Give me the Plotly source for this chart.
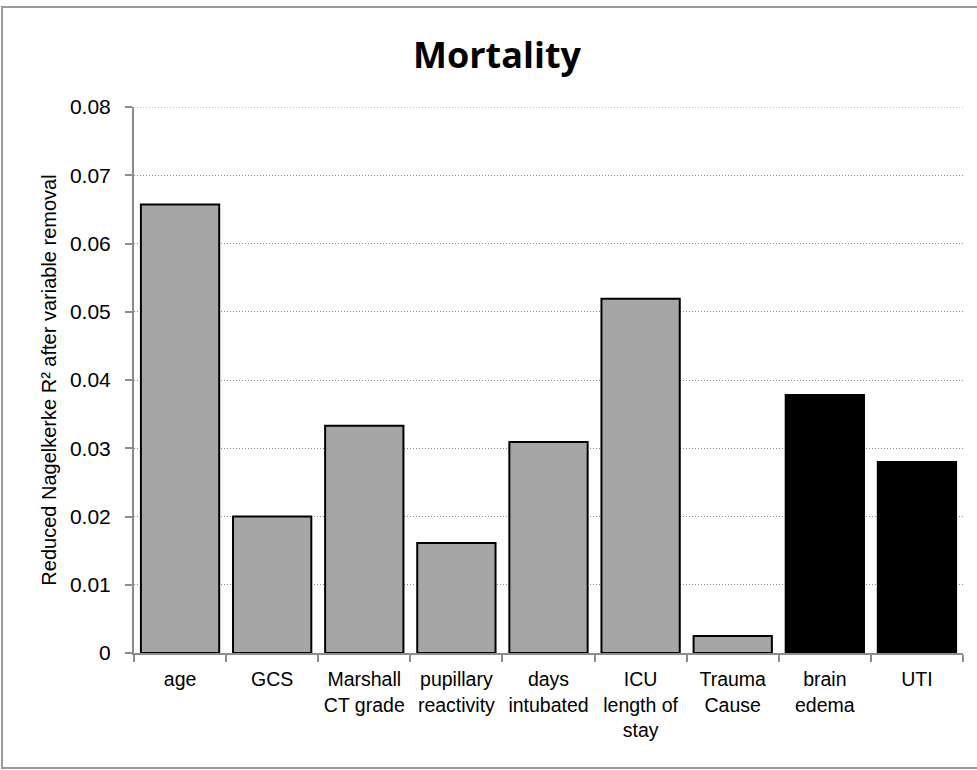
import plotly.graph_objects as go

categories = ["age", "GCS", "Marshall<br>CT grade", "pupillary<br>reactivity", "days<br>intubated",
              "ICU<br>length of<br>stay", "Trauma<br>Cause", "brain<br>edema", "UTI"]
values = [0.0657, 0.0200, 0.0333, 0.0161, 0.0309, 0.0519, 0.0025, 0.0378, 0.0280]
colors = ["#a6a6a6"] * 7 + ["#000000"] * 2
y_ticks = [0, 0.01, 0.02, 0.03, 0.04, 0.05, 0.06, 0.07, 0.08]
y_ticktext = ["0", "0.01", "0.02", "0.03", "0.04", "0.05", "0.06", "0.07", "0.08"]

W, H = 977, 770
L, R, T, B = 134, 963, 107, 653  # plot area in page pixels
pw, ph = R - L, B - T

fig = go.Figure(go.Bar(
    x=categories, y=values,
    marker=dict(color=colors, line=dict(color="#000000", width=2)),
))

fig.update_layout(
    width=W, height=H,
    margin=dict(l=L, r=W - R, t=T, b=H - B),
    paper_bgcolor="white", plot_bgcolor="white",
    bargap=0.15,
    showlegend=False,
    font=dict(family="Liberation Sans, Arial, sans-serif", color="#000000", size=19),
    title=dict(text="<b>Mortality</b>", x=497 / W, xanchor="center", y=1 - 55 / H, yanchor="middle",
               font=dict(family="Open Sans, Liberation Sans, sans-serif", size=36, color="#000000")),
    xaxis=dict(
        showline=True, linecolor="#8c8c8c", linewidth=2,
        ticks="outside", tickson="boundaries", ticklen=7, tickcolor="#8c8c8c", tickwidth=1.5,
        tickfont=dict(size=19.5), showgrid=False, ticklabelstandoff=8,
    ),
    yaxis=dict(
        range=[0, 0.08], tickvals=y_ticks, ticktext=y_ticktext,
        showline=True, linecolor="#8c8c8c", linewidth=2,
        ticks="outside", ticklen=7, tickcolor="#8c8c8c", tickwidth=1.5,
        tickfont=dict(size=21), ticklabelstandoff=10,
        showgrid=True, gridcolor="#8a8a8a", griddash="1px,2px", gridwidth=1,
        zeroline=False,
        title=dict(text="Reduced Nagelkerke R² after variable removal", font=dict(size=20), standoff=8),
    ),
    shapes=[
        dict(type="rect", xref="paper", yref="paper",
             x0=(2 - L) / pw, x1=(990 - L) / pw, y0=(B - 768) / ph, y1=(B - 7) / ph,
             line=dict(color="#9a9a9a", width=2), fillcolor="rgba(0,0,0,0)", layer="below"),
        dict(type="line", xref="paper", yref="y", x0=0, x1=1, y0=y_ticks[-1], y1=y_ticks[-1],
             line=dict(color="#8a8a8a", width=1, dash="1px,2px"), layer="below"),
    ],
)

fig.write_html("out.html", config={"displayModeBar": False},
               post_script="document.body.style.margin='0';document.body.style.padding='0';")
